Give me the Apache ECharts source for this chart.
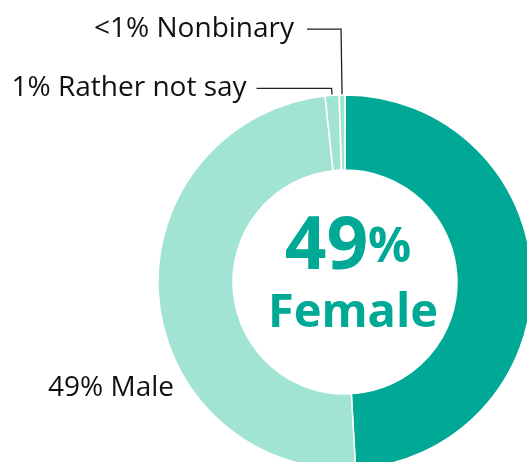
<!DOCTYPE html>
<html>
<head>
<meta charset="utf-8">
<script src="https://cdn.jsdelivr.net/npm/echarts@6/dist/echarts.min.js"></script>
<style>
  html, body { margin: 0; padding: 0; background: #fff; }
  #chart { width: 527px; height: 462px; }
</style>
</head>
<body>
<div id="chart"></div>
<script>
var categories = ['Female', 'Male', 'Rather not say', 'Nonbinary'];
var values = [49.1, 49.2, 1.2, 0.5];
var labels = ['49% Female', '49% Male', '1% Rather not say', '<1% Nonbinary'];
var colors = ['#00A995', '#A2E4D4', '#A2E4D4', '#A2E4D4'];

var FONT = '"Open Sans", Lato, sans-serif';

var chart = echarts.init(document.getElementById('chart'));

var pieData = categories.map(function (name, i) {
    var item = {
        name: name,
        value: values[i],
        itemStyle: { color: colors[i] }
    };
    if (i === 0) {
        item.label = { show: false };
        item.labelLine = { show: false };
    }
    if (i === 1) {
        item.labelLine = { show: false };
    }
    if (i === 2) {
        item.labelLine = { length: 7, length2: 75 };
        item.label = { distanceToLabelLine: 10 };
    }
    if (i === 3) {
        item.labelLine = { length: 66, length2: 34 };
        item.label = { distanceToLabelLine: 13 };
    }
    return item;
});

var option = {
    animation: false,
    title: [{
        text: '{num|49}{pct|%}',
        left: 343,
        top: 207,
        textAlign: 'center',
        textStyle: {
            rich: {
                num: { fontFamily: FONT, fontWeight: 'bold', fontSize: 73, color: '#00A995' },
                pct: { fontFamily: FONT, fontWeight: 'bold', fontSize: 48, color: '#00A995' }
            }
        }
    }, {
        text: 'Female',
        left: 348,
        top: 285,
        textAlign: 'center',
        textStyle: { fontFamily: FONT, fontWeight: 'bold', fontSize: 47, color: '#00A995' }
    }],
    series: [{
        type: 'pie',
        center: [345, 282],
        radius: [112, 187],
        startAngle: 90,
        clockwise: true,
        avoidLabelOverlap: false,
        silent: true,
        itemStyle: { borderColor: '#fff', borderWidth: 1.5 },
        label: {
            show: true,
            position: 'outside',
            distanceToLabelLine: 12,
            fontFamily: FONT,
            fontSize: 28,
            color: '#111',
            formatter: function (p) { return labels[p.dataIndex]; }
        },
        labelLine: {
            show: true,
            smooth: false,
            lineStyle: { color: '#222', width: 1.3 }
        },
        labelLayout: function (params) {
            if (params.dataIndex === 1) {
                return { x: 174, y: 388, align: 'right', verticalAlign: 'middle' };
            }
        },
        data: pieData
    }]
};

chart.setOption(option);
</script>
</body>
</html>
